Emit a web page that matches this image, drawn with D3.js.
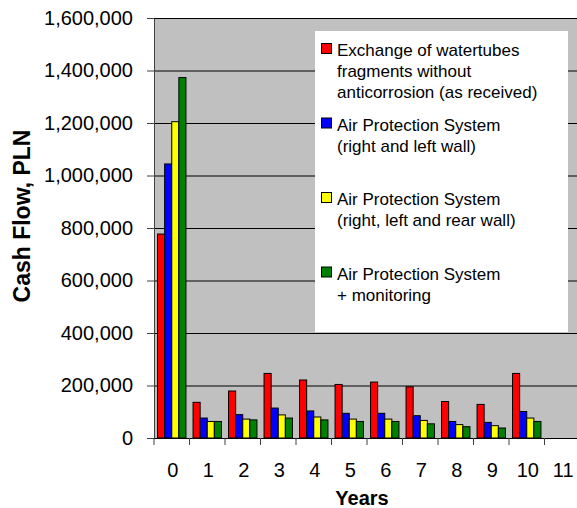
<!DOCTYPE html>
<html>
<head>
<meta charset="utf-8">
<script src="https://d3js.org/d3.v7.min.js"></script>
<style>
body { margin: 0; background: #fff; }
svg text { font-family: "Liberation Sans", Arial, sans-serif; fill: #000; }
</style>
</head>
<body>
<svg width="577" height="508"></svg>
<script>

// years on the x axis (11 has no bars)
var years = ["0", "1", "2", "3", "4", "5", "6", "7", "8", "9", "10", "11"];

var exchange = [777000, 136000, 179000, 246000, 221000, 204000, 213000, 195000, 139000, 128000, 246000, null];
var apsRightLeft = [1044000, 76000, 89000, 114000, 103000, 94000, 94000, 85000, 63000, 59500, 101000, null];
var apsRightLeftRear = [1205000, 63000, 72000, 88000, 80000, 72000, 72000, 67000, 51000, 47000, 76000, null];
var apsMonitoring = [1373000, 63000, 69000, 76000, 69000, 63000, 63000, 54000, 43000, 38000, 63000, null];

var seriesNames = [
    ["Exchange of watertubes", "fragments without", "anticorrosion (as received)"],
    ["Air Protection System", "(right and left wall)"],
    ["Air Protection System", "(right, left and rear wall)"],
    ["Air Protection System", "+ monitoring"]
];
var colors = ["#FF0000", "#0000FF", "#FFFF00", "#008000"];
var yTicks = [0, 200000, 400000, 600000, 800000, 1000000, 1200000, 1400000, 1600000];

var allSeries = [exchange, apsRightLeft, apsRightLeftRear, apsMonitoring];

var svg = d3.select("svg");
var plotLeft = 154, plotRight = 580, plotTop = 18, plotBottom = 438;

var x0 = d3.scaleBand().domain(years).range([plotLeft, plotRight]).paddingInner(0.2).paddingOuter(0.1);
var x1 = d3.scaleBand().domain(d3.range(4)).range([0, x0.bandwidth()]);
var y = d3.scaleLinear().domain([0, 1600000]).range([plotBottom, plotTop]);

// plot background
svg.append("rect")
    .attr("x", plotLeft).attr("y", plotTop)
    .attr("width", plotRight - plotLeft).attr("height", plotBottom - plotTop)
    .attr("fill", "#C0C0C0");

// gridlines
svg.append("g").selectAll("line")
    .data(yTicks.slice(1))
    .enter().append("line")
    .attr("x1", plotLeft).attr("x2", plotRight)
    .attr("y1", function (d) { return y(d) + 0.5; })
    .attr("y2", function (d) { return y(d) + 0.5; })
    .attr("stroke", "#000")
    .attr("stroke-width", 1);

// bars
var groups = svg.append("g").selectAll("g")
    .data(years)
    .enter().append("g")
    .attr("transform", function (d) { return "translate(" + x0(d) + ",0)"; });

groups.selectAll("rect")
    .data(function (d, i) {
        return allSeries.map(function (s, k) { return { k: k, v: s[i] }; })
            .filter(function (e) { return e.v != null; });
    })
    .enter().append("rect")
    .attr("x", function (d) { return x1(d.k); })
    .attr("y", function (d) { return y(d.v); })
    .attr("width", x1.bandwidth())
    .attr("height", function (d) { return y(0) - y(d.v); })
    .attr("fill", function (d) { return colors[d.k]; })
    .attr("stroke", "#000")
    .attr("stroke-width", 1);

// y axis
var yAxis = svg.append("g")
    .attr("transform", "translate(" + plotLeft + ",0)")
    .call(d3.axisLeft(y).tickValues(yTicks).tickFormat(d3.format(",")).tickSize(7).tickPadding(14).tickSizeOuter(0));
yAxis.select(".domain").attr("stroke", "#404040");
yAxis.selectAll("line").attr("stroke", "#404040");
yAxis.selectAll("text").style("font-size", "20px");

// x axis: ticks on category boundaries
var boundaries = years.map(function (d) { return x0(d) - x0.step() * 0.1; });
var xAxis = svg.append("g")
    .attr("transform", "translate(0," + plotBottom + ")");
xAxis.append("line")
    .attr("x1", plotLeft).attr("x2", plotRight)
    .attr("y1", 0.5).attr("y2", 0.5)
    .attr("stroke", "#000");
xAxis.selectAll(".tk")
    .data(boundaries)
    .enter().append("line")
    .attr("class", "tk")
    .attr("x1", function (d) { return d; })
    .attr("x2", function (d) { return d; })
    .attr("y1", 0).attr("y2", 7)
    .attr("stroke", "#404040");
xAxis.selectAll("text")
    .data(years)
    .enter().append("text")
    .attr("x", function (d) { return x0(d) + x0.bandwidth() / 2 + 1; })
    .attr("y", 39)
    .attr("text-anchor", "middle")
    .style("font-size", "20px")
    .text(function (d) { return d; });

// axis titles
svg.append("text")
    .attr("x", 362).attr("y", 505)
    .attr("text-anchor", "middle")
    .style("font-size", "20px")
    .style("font-weight", "bold")
    .text("Years");

svg.append("text")
    .attr("transform", "translate(30,216)rotate(-90)")
    .attr("text-anchor", "middle")
    .style("font-size", "23px")
    .style("font-weight", "bold")
    .text("Cash Flow, PLN");

// legend
var legend = svg.append("g");
legend.append("rect")
    .attr("x", 315).attr("y", 31)
    .attr("width", 253).attr("height", 301)
    .attr("fill", "#fff");

var item = legend.selectAll(".item")
    .data(seriesNames)
    .enter().append("g")
    .attr("class", "item")
    .attr("transform", function (d, i) { return "translate(321," + (43 + i * 74.5) + ")"; });

item.append("rect")
    .attr("x", 0.5).attr("y", 0.5)
    .attr("width", 10).attr("height", 10)
    .attr("fill", function (d, i) { return colors[i]; })
    .attr("stroke", "#000");

item.selectAll("text")
    .data(function (d) { return d; })
    .enter().append("text")
    .attr("x", 16)
    .attr("y", function (d, j) { return 13 + j * 21; })
    .style("font-size", "17px")
    .text(function (d) { return d; });

</script>
</body>
</html>
